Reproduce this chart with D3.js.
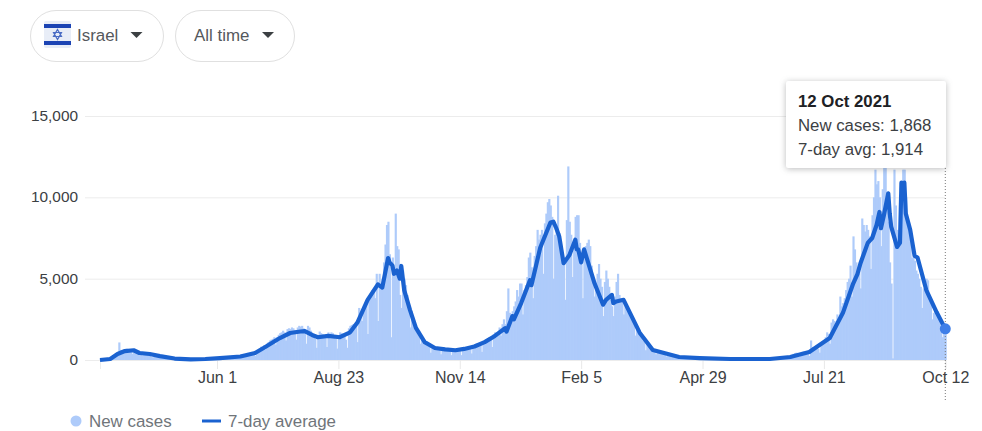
<!DOCTYPE html>
<html>
<head>
<meta charset="utf-8">
<script src="https://cdn.jsdelivr.net/npm/d3@7"></script>
<style>
  body { margin: 0; padding: 0; background: #fff; }
  svg { display: block; font-family: "Liberation Sans", Arial, sans-serif; }
</style>
</head>
<body>
<script>
// daily new cases, first entry is 13 Mar 2020, one row = 4 weeks
const newCases = [
  20,15,30,40,50,60,70, 90,60,120,170,240,340,1080, 620,450,560,680,700,660,620, 520,380,520,560,480,440,400,
  400,280,300,330,310,280,260, 200,160,230,240,210,190,170, 130,100,140,130,110,100,90, 70,50,70,60,50,40,40,
  30,20,25,25,30,25,20, 25,15,30,25,30,35,40, 20,10,30,40,45,70,60, 100,50,120,130,140,190,150,
  190,100,200,240,220,230,210, 260,180,250,300,290,310,320, 300,190,350,390,380,430,420, 400,250,480,600,700,820,760,
  900,650,1000,1100,1200,1250,1300, 1400,950,1400,1550,1650,1700,1800, 1700,1200,1900,1950,1900,2000,1950, 1850,1250,2000,2100,2050,2100,1950,
  1900,1000,2100,2000,1800,1650,1500, 1300,750,1500,1750,1650,1600,1500, 1400,800,1700,1600,1700,1650,1500, 1300,700,1500,1700,1650,1600,1450,
  1250,750,1950,2100,2150,2200,2100, 2300,1100,3200,2700,2400,2900,3300, 3500,1600,3800,4100,4300,4200,3800, 5300,2400,5300,4500,5000,6000,7100,
  8300,8500,6500,1400,6300,5500,9000, 7000,6800,4000,3200,5500,5000,4600, 4000,3300,2000,3000,2600,2300,2000, 1900,1800,1000,1400,1300,1200,1000,
  900,900,450,900,800,750,700, 700,650,350,650,700,650,600, 600,550,300,650,650,620,600, 650,600,300,700,750,700,700,
  800,700,400,900,950,1000,1000, 1000,950,500,1150,1200,1300,1250, 1400,1300,800,1600,1700,1600,1500, 2000,1500,2200,2500,2200,3000,4400,
  2900,2600,3000,3300,3600,4300,3900, 4700,4700,2800,4300,4600,5100,6300, 6600,5700,3800,6400,7000,8000,7400, 7700,8000,5300,8400,9000,9700,9900,
  9500,8800,5000,7700,8000,10100,7800, 7000,6600,6200,3700,8600,11900,8500, 7700,5100,7000,8800,8900,8900,7200, 6000,3800,6500,7000,7200,7400,7000,
  5800,5000,3900,4800,5300,5900,5000, 4500,2700,4800,5500,5000,4500,3700, 3300,2700,3900,4800,5300,4000,3800, 3700,2800,3600,3400,3200,2900,2600,
  2400,2200,1500,2000,1800,1600,1400, 1200,1100,600,1000,950,850,800, 700,650,350,600,550,500,480, 420,400,220,380,350,330,300,
  280,260,150,260,240,230,220, 210,200,110,190,180,170,160, 150,140,80,130,120,110,100, 90,85,50,80,75,70,65,
  60,55,30,55,50,45,45, 40,40,20,40,35,35,30, 30,30,15,30,25,25,25, 25,20,10,20,20,20,20,
  20,15,10,20,20,25,25, 20,15,10,25,30,40,50, 70,50,30,80,120,150,180, 220,200,100,280,320,380,420,
  450,400,220,450,500,520,480, 500,430,250,1200,800,620,700, 850,700,450,1000,1050,1100,1400, 1700,1600,1000,2300,2500,2400,2200,
  2800,2300,3900,3300,3500,3800,4300, 4800,5000,5800,3900,7600,6800,6000, 5600,5600,4400,8700,8300,7900,8300, 8000,7600,5600,8900,10000,11700,10800,
  11000,10000,7000,10500,11800,11800,10200, 8500,6000,4700,100,11700,9500,8000, 7700,9000,10000,11700,11700,10000,8700, 8400,7700,6300,6300,6100,5500,5300,
  5000,4500,3200,4400,4500,5000,4900, 3900,3500,2500,2900,3000,2700,2500, 2400,2100,1400,2000,1868
];

// 7-day average read at the corners of the line: days since 13 Mar 2020, and value
const avgDays = [0,7,12,17,23,27,34,41,51,62,72,82,96,106,113,123,130,137,140,145,149,156,164,171,176,183,190,193,197,198,200,201,203,205,206,208,212,216,222,229,236,243,249,256,263,270,277,278,282,283,288,294,295,301,308,310,312,314,317,321,325,326,327,329,331,338,344,346,350,351,353,358,369,378,396,410,431,458,472,485,499,508,515,518,520,525,528,531,533,534,536,539,540,541,545,547,548,549,550,551,554,557,559,565,572,578];
const avgValues = [0,60,370,550,600,430,370,240,90,40,60,120,215,430,800,1350,1660,1750,1780,1540,1400,1480,1400,1700,2300,3700,4650,4450,6270,6000,5800,5300,5500,5000,5780,4300,3070,1970,1100,740,650,600,680,830,1100,1480,1950,1750,2700,2500,3500,4900,4600,6900,8450,8500,8100,7600,5950,6450,7400,6800,6800,6000,6800,4750,3400,3700,4000,3500,3600,3700,1680,620,185,120,60,60,185,490,1350,2900,4700,5300,5950,7200,7500,8300,9100,8100,8900,10250,9000,8200,6950,7200,10900,10000,10900,9000,8000,6400,6300,4300,2950,1914];

const tickDates = ["2020-06-01","2020-08-23","2020-11-14","2021-02-05","2021-04-29","2021-07-21","2021-10-12"];
const yTicks = [0, 5000, 10000, 15000];
const tooltipLines = ["New cases: 1,868", "7-day avg: 1,914"];
const legendLabels = ["New cases", "7-day average"];

const width = 982
const height = 431
const barColor = "#aecbfa"
const lineColor = "#1a62d0"
const inkColor = "#3c4043"
const greyColor = "#70757a"

const start = new Date(2020, 2, 13);
const dayAt = i => d3.timeDay.offset(start, i);
const parseDay = d3.timeParse("%Y-%m-%d");

const x = d3.scaleTime()
  .domain([start, dayAt(newCases.length - 1)])
  .range([100, 945.3]);

const y = d3.scaleLinear()
  .domain([0, 15000])
  .range([360, 116]);

const svg = d3.select("body").append("svg")
  .attr("width", width)
  .attr("height", height);

// gridlines and left labels
const yAxis = svg.append("g")
  .attr("transform", "translate(85,0)")
  .call(d3.axisLeft(y).tickValues(yTicks).tickSize(-860).tickPadding(7).tickFormat(d3.format(",")));
yAxis.select(".domain").remove();
yAxis.selectAll("line").attr("stroke", "#ececec");
yAxis.selectAll("text").attr("fill", inkColor).style("font-size", "15.4px").attr("dy", "0.3em");

// bars, a bit wider than a day so they close up like the original
const barW = x(dayAt(1)) - x(dayAt(0));
svg.append("g")
  .attr("fill", barColor)
  .selectAll("rect")
  .data(newCases)
  .join("rect")
  .attr("x", (d, i) => x(dayAt(i)) - barW / 2)
  .attr("y", d => y(d))
  .attr("width", barW + 0.7)
  .attr("height", d => y(0) - y(d));

// bottom axis
const xAxis = svg.append("g")
  .attr("transform", "translate(0,360)")
  .call(d3.axisBottom(x)
    .tickValues(tickDates.map(parseDay))
    .tickSize(9)
    .tickPadding(3)
    .tickFormat(d3.timeFormat("%b %-d")));
xAxis.select(".domain").attr("stroke", "#ececec");
xAxis.selectAll("line").attr("stroke", "#e8e8e8");
xAxis.selectAll("text").attr("fill", inkColor).style("font-size", "16px");

// 7-day line
const line = d3.line()
  .x(d => x(dayAt(d[0])))
  .y(d => y(d[1]));

svg.append("path")
  .datum(d3.zip(avgDays, avgValues))
  .attr("fill", "none")
  .attr("stroke", lineColor)
  .attr("stroke-width", 4.2)
  .attr("stroke-linejoin", "round")
  .attr("d", line);

// hover marker
const lastX = x(dayAt(avgDays[avgDays.length - 1]));
const lastY = y(avgValues[avgValues.length - 1]);
svg.append("line")
  .attr("x1", lastX).attr("x2", lastX)
  .attr("y1", 168).attr("y2", 400)
  .attr("stroke", "#777")
  .attr("stroke-dasharray", "1,2");
svg.append("circle")
  .attr("cx", lastX)
  .attr("cy", lastY)
  .attr("r", 5.5)
  .attr("fill", "#3f7fe8");

// tooltip
const tip = svg.append("g").attr("transform", "translate(786,81)");
tip.append("rect")
  .attr("width", 160)
  .attr("height", 87)
  .attr("rx", 2)
  .attr("fill", "#fff")
  .style("filter", "drop-shadow(0 1px 3px rgba(60,64,67,0.35))");
tip.append("text")
  .attr("x", 12).attr("y", 26)
  .attr("fill", "#202124")
  .style("font-size", "16.8px")
  .style("font-weight", "bold")
  .text("12 Oct 2021");
tip.selectAll("text.row")
  .data(tooltipLines)
  .join("text")
  .attr("class", "row")
  .attr("x", 12)
  .attr("y", (d, i) => 50 + i * 24)
  .attr("fill", inkColor)
  .style("font-size", "16.8px")
  .text(d => d);

// legend
const legend = svg.append("g");
legend.append("circle").attr("cx", 76).attr("cy", 421).attr("r", 5.5).attr("fill", barColor);
legend.append("line")
  .attr("x1", 202).attr("x2", 221)
  .attr("y1", 421).attr("y2", 421)
  .attr("stroke", lineColor)
  .attr("stroke-width", 3);
legend.selectAll("text")
  .data(legendLabels)
  .join("text")
  .attr("x", (d, i) => [89, 228][i])
  .attr("y", 427)
  .attr("fill", greyColor)
  .style("font-size", "16.9px")
  .text(d => d);

// dropdown pills
const pills = [
  { x: 30.5, w: 133, label: "Israel", tx: 77, arrow: 136.5 },
  { x: 175.5, w: 119, label: "All time", tx: 194, arrow: 268 }
];
const pill = svg.append("g").selectAll("g").data(pills).join("g");
pill.append("rect")
  .attr("x", d => d.x)
  .attr("y", 10.5)
  .attr("width", d => d.w)
  .attr("height", 51)
  .attr("rx", 25.5)
  .attr("fill", "#fff")
  .attr("stroke", "#e0e0e0");
pill.append("text")
  .attr("x", d => d.tx)
  .attr("y", 41)
  .attr("fill", "#54585c")
  .style("font-size", "16.9px")
  .text(d => d.label);
pill.append("path")
  .attr("d", d => `M${d.arrow - 6},32 h12 l-6,6 z`)
  .attr("fill", "#3c4043");

// flag
const flag = svg.append("g").attr("transform", "translate(44,21)");
flag.append("rect").attr("width", 27).attr("height", 27).attr("rx", 2).attr("fill", "#e8edf7");
flag.append("rect").attr("y", 3).attr("width", 27).attr("height", 4).attr("fill", "#1c44b4");
flag.append("rect").attr("y", 20).attr("width", 27).attr("height", 4).attr("fill", "#1c44b4");
flag.append("path")
  .attr("d", "M13.5,8.5 l4,7 h-8 z M13.5,18.5 l-4,-7 h8 z")
  .attr("fill", "none")
  .attr("stroke", "#4a6cc4")
  .attr("stroke-width", 1.2);
</script>
</body>
</html>
